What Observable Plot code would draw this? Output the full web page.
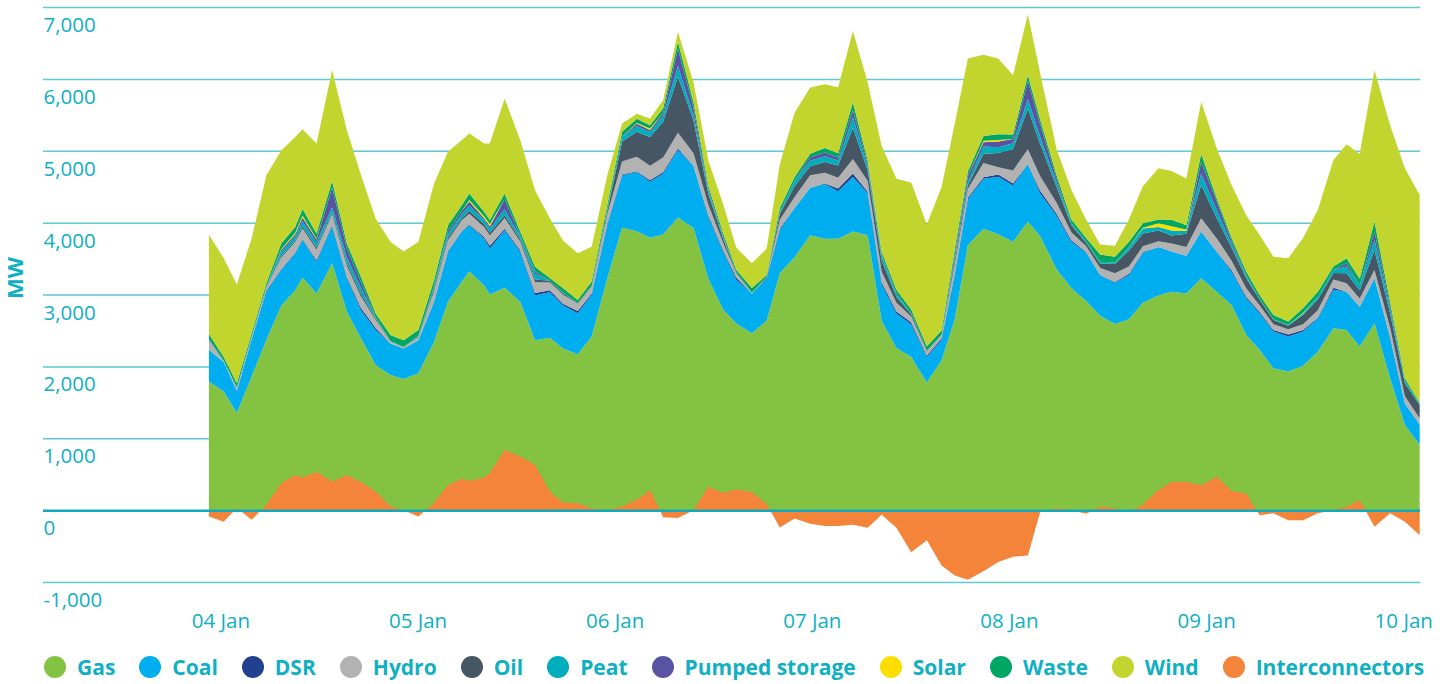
<!DOCTYPE html>
<html>
<head>
<meta charset="utf-8">
<script src="https://cdn.jsdelivr.net/npm/d3@7"></script>
<script src="https://cdn.jsdelivr.net/npm/@observablehq/plot@0.6"></script>
<style>
  html, body { margin: 0; padding: 0; background: #ffffff; }
  #wrap { width: 1453px; font-family: "Open Sans", sans-serif; }
  #legend { display: flex; align-items: center; height: 44px; padding-left: 44px; box-sizing: border-box; }
  .item { display: flex; align-items: center; margin-right: 24px; }
  .dot { width: 22px; height: 22px; border-radius: 50%; margin-right: 11px; }
  .lab { font-family: "Open Sans", sans-serif; font-weight: 700; font-size: 21px; color: #0fb0c3; white-space: nowrap; }
</style>
</head>
<body>
<div id="wrap"><div id="chart"></div><div id="legend"></div></div>
<script>
// hours since 04 Jan 00:00
const hours = [-1.4,0.4,2.0,3.8,5.6,7.4,9.1,10.0,11.7,13.6,15.4,17.1,18.9,20.7,22.3,24.1,26.0,27.7,29.4,30.3,32.1,32.8,34.6,36.5,38.3,40.1,41.7,43.5,45.2,47.1,48.9,50.7,52.3,53.9,55.7,57.6,59.4,61.2,62.8,64.7,66.5,68.1,69.9,71.8,73.6,75.2,77.0,78.8,80.5,82.3,84.1,86.0,87.8,89.4,91.0,92.9,94.7,96.5,98.3,99.8,101.8,103.6,105.4,107.1,108.9,110.6,112.3,114.2,115.8,117.6,119.4,121.3,123.1,124.9,126.5,128.2,130.0,131.8,133.6,135.5,137.1,138.7,140.5,142.4,144.2,146.0];

const gas = [1790,1650,1350,1860,2370,2845,3060,3235,3015,3435, 2760,2390,2020,1880,1825,1905,2340,2900,3180,3325, 3130,3000,3095,2900,2365,2400,2250,2170,2415,3225, 3930,3880,3790,3835,4070,3925,3220,2790,2595,2460, 2635,3295,3520,3825,3775,3775,3875,3825,2635,2255, 2130,1775,2085,2655,3685,3915,3840,3735,4015,3810, 3350,3090,2910,2705,2590,2655,2885,2990,3040,3015, 3225,3040,2855,2435,2230,1975,1930,2010,2205,2530, 2505,2275,2600,1835,1185,910];
const coal = [440,410,300,510,670,495,510,525,440,510, 465,395,485,440,425,460,550,695,695,640, 650,640,800,695,625,630,600,570,580,740, 730,825,780,850,940,865,860,810,610,555, 585,605,685,660,760,660,760,585,505,480, 455,355,285,615,645,695,800,780,800,595, 745,645,670,565,575,615,695,670,560,525, 650,555,465,510,510,510,485,475,465,535, 535,555,625,555,300,280];
const dsr = [0,0,10,10,15,10,10,10,20,20, 20,30,30,0,0,0,10,10,10,10, 20,40,20,20,30,30,20,30,20,20, 10,10,20,20,20,0,20,20,30,0, 15,20,0,0,10,40,50,20,30,30, 30,20,20,20,20,20,30,30,0,40, 30,20,10,0,10,20,10,0,0,0, 0,0,20,20,20,20,30,20,10,30, 0,0,0,20,0,0];
const hydro = [130,20,40,30,40,160,150,150,150,150, 150,160,110,30,20,40,150,150,150,150, 140,140,150,120,150,110,130,100,100,130, 180,200,200,200,220,175,150,100,60,10, 10,120,150,175,150,150,200,150,150,120, 80,60,50,130,120,200,100,180,205,200, 150,110,80,100,120,100,80,80,110,120, 185,185,130,120,90,80,70,80,100,115, 115,115,115,130,100,90];
const oil = [10,0,0,0,5,20,20,30,30,30, 40,40,20,0,0,10,30,30,30,40, 40,40,40,30,40,20,20,10,10,40, 280,350,400,500,780,455,150,60,10,0, 0,80,150,125,150,170,430,150,150,80, 30,10,0,60,50,130,200,300,565,450, 220,100,50,60,130,220,180,150,110,185, 465,280,180,140,80,60,50,130,150,90, 140,115,280,200,180,180];
const peat = [10,0,5,5,10,60,60,70,70,70, 80,80,20,0,0,10,40,60,60,70, 60,60,80,40,80,0,10,0,0,20, 60,80,70,80,150,75,40,20,0,0, 0,20,75,75,80,70,150,50,60,40, 10,0,0,40,50,100,80,80,130,100, 60,30,10,25,20,40,70,50,70,40, 160,115,50,30,10,10,10,20,40,40, 95,70,140,60,30,10];
const pumped = [0,0,0,0,0,30,30,50,40,270, 120,80,0,0,0,0,0,40,40,60, 20,30,140,10,30,0,0,0,0,10, 10,30,30,40,240,100,20,10,0,0, 0,10,0,50,50,40,100,40,20,10, 0,0,0,40,80,60,80,60,255,170, 50,0,0,0,0,10,0,0,0,0, 160,115,40,10,0,0,0,0,0,0, 45,0,115,40,0,0];
const solar = [0,0,0,0,0,10,20,30,10,0, 0,0,0,0,0,0,0,0,0,20, 30,30,0,0,0,0,0,0,0,0, 0,10,20,0,0,0,0,0,0,0, 0,0,0,0,0,0,0,0,0,0, 0,0,0,0,0,20,20,0,0,0, 0,0,0,0,0,0,10,50,60,20, 0,0,0,0,0,0,0,10,0,0, 0,0,0,0,0,0];
const waste = [70,50,60,45,45,80,80,90,75,95, 75,75,50,85,95,80,80,80,80,90, 60,55,80,60,65,40,60,45,55,60, 65,60,45,65,95,80,50,45,40,65, 25,55,55,50,65,60,110,45,45,50, 55,60,60,70,65,65,80,60,80,70, 55,50,55,100,80,75,60,55,90,60, 115,45,45,50,55,60,50,65,70,50, 70,90,140,60,40,20];
const wind = [1380,1375,1375,1320,1505,1295,1250,1110,1250,1545, 1575,1415,1320,1300,1235,1230,1340,1020,905,835, 950,1065,1320,1275,1065,830,660,650,485,415, 115,70,95,115,140,275,355,405,305,345, 370,605,895,920,885,920,990,1085,1470,1545, 1770,1695,2000,1750,1570,1130,1055,825,850,645, 360,410,255,140,155,310,515,710,680,650, 720,695,740,785,835,810,880,975,1135,1480, 1585,1735,2105,2455,2920,2895];
const interconnectors = [-90,-160,30,-135,75,375,490,455,535,400, 490,390,260,50,0,-90,100,350,435,405, 455,515,840,745,630,260,105,95,25,0, 50,145,280,-100,-110,0,325,240,290,250, 85,-240,-115,-190,-220,-220,-205,-245,-65,-245, -585,-420,-770,-910,-970,-850,-720,-650,-630,-25, 25,0,-50,50,25,-30,75,285,390,395, 345,465,265,230,-70,-45,-140,-140,-45,0, 45,140,-230,-45,-160,-350];

const seriesNames = ["Gas","Coal","DSR","Hydro","Oil","Peat","Pumped storage","Solar","Waste","Wind"];
const seriesValues = [gas, coal, dsr, hydro, oil, peat, pumped, solar, waste, wind];
const seriesColors = ["#84c341","#00adef","#21408d","#b2b2b2","#465664","#00adbd","#5a53a3","#fedd00","#00a664","#c2d52f"];
const interName = "Interconnectors";
const interColor = "#f4843a";

const dayHours = [0,24,48,72,96,120,144];
const dayLabels = ["04 Jan","05 Jan","06 Jan","07 Jan","08 Jan","09 Jan","10 Jan"];
const yTicks = [-1000,0,1000,2000,3000,4000,5000,6000,7000];
const yTickLabels = ["-1,000","0","1,000","2,000","3,000","4,000","5,000","6,000","7,000"];

const teal = "#0fb0c3";

const rows = [];
seriesNames.forEach((name, s) => {
  seriesValues[s].forEach((v, i) => rows.push({h: hours[i], v, k: name}));
});
const idx = hours.map((_, i) => i);

const chart = Plot.plot({
  width: 1453,
  height: 645,
  marginTop: 7,
  marginBottom: 63,
  marginLeft: 43,
  marginRight: 33,
  style: {fontFamily: "Open Sans, sans-serif", background: "#ffffff"},
  x: {type: "linear", domain: [-21.6, 146.04], axis: null},
  y: {domain: [-1000, 7000], axis: null},
  color: {domain: seriesNames, range: seriesColors},
  marks: [
    Plot.ruleY(yTicks.filter(d => d !== 0), {stroke: "#5fc9d4", strokeWidth: 1.5}),
    Plot.areaY(rows, {x: "h", y: "v", fill: "k", order: seriesNames, curve: "linear"}),
    Plot.areaY(idx, {x: i => hours[i], y1: 0, y2: i => interconnectors[i], fill: interColor, curve: "linear"}),
    Plot.ruleY([0], {stroke: "#13a9bd", strokeWidth: 2.5}),
    Plot.text(yTicks, {y: d => d, text: (d, i) => yTickLabels[i], frameAnchor: "left", textAnchor: "start", lineAnchor: "middle", dy: 18, fill: teal, fontSize: 20.5}),
    Plot.text(dayHours, {x: d => d, text: (d, i) => dayLabels[i], frameAnchor: "bottom", lineAnchor: "middle", dy: 39, fill: teal, fontSize: 20.5}),
    Plot.text(["MW"], {frameAnchor: "left", rotate: -90, dx: -28, dy: 4, fill: teal, fontSize: 22, fontWeight: 700})
  ]
});
document.getElementById("chart").appendChild(chart);

const legend = document.getElementById("legend");
seriesNames.concat([interName]).forEach((name, i) => {
  const item = document.createElement("div");
  item.className = "item";
  const dot = document.createElement("span");
  dot.className = "dot";
  dot.style.background = i < seriesColors.length ? seriesColors[i] : interColor;
  const lab = document.createElement("span");
  lab.className = "lab";
  lab.textContent = name;
  item.appendChild(dot);
  item.appendChild(lab);
  legend.appendChild(item);
});
</script>
</body>
</html>
